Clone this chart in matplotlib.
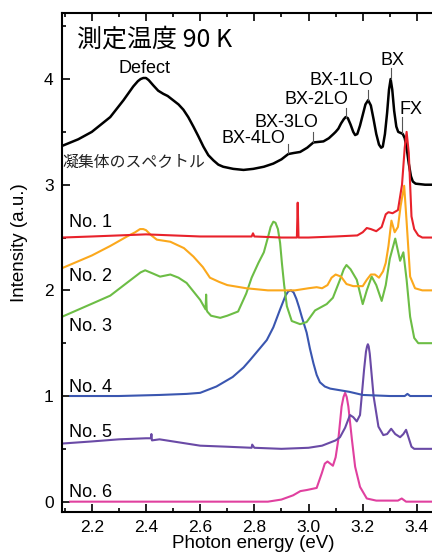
import matplotlib
matplotlib.use("Agg")
import matplotlib.pyplot as plt
from matplotlib.ticker import MultipleLocator

plt.rcParams['font.family'] = ['Liberation Sans', 'DejaVu Sans']

# bulk spectrum (black)
bulk_x = [2.09, 2.15, 2.2, 2.268, 2.317, 2.353, 2.37, 2.38, 2.39, 2.40, 2.41, 2.427, 2.445,
          2.464, 2.48, 2.50, 2.52, 2.538, 2.556, 2.575, 2.593, 2.612, 2.63, 2.649, 2.667,
          2.685, 2.722, 2.76, 2.796, 2.835, 2.87, 2.90, 2.925, 2.945, 2.969, 2.995, 3.018,
          3.055, 3.075, 3.092, 3.10, 3.11, 3.12, 3.13, 3.137, 3.145, 3.155, 3.165, 3.172,
          3.18, 3.19, 3.2, 3.21, 3.22, 3.23, 3.24, 3.25, 3.26, 3.268, 3.274, 3.282, 3.29,
          3.297, 3.303, 3.309, 3.316, 3.324, 3.331, 3.34, 3.348, 3.355, 3.362, 3.37, 3.378,
          3.385, 3.395, 3.43, 3.5]
bulk_y = [3.367, 3.43, 3.50, 3.64, 3.80, 3.93, 3.98, 4.0, 4.01, 4.01, 3.99, 3.94, 3.89,
          3.86, 3.84, 3.80, 3.76, 3.71, 3.64, 3.55, 3.46, 3.36, 3.28, 3.23, 3.19,
          3.17, 3.15, 3.14, 3.15, 3.17, 3.20, 3.24, 3.29, 3.30, 3.31, 3.35, 3.40,
          3.41, 3.44, 3.48, 3.50, 3.53, 3.58, 3.62, 3.64, 3.63, 3.57, 3.50, 3.47,
          3.48, 3.56, 3.66, 3.76, 3.80, 3.75, 3.62, 3.48, 3.38, 3.35, 3.36, 3.48, 3.68,
          3.90, 4.0, 3.90, 3.70, 3.55, 3.50, 3.49, 3.48, 3.44, 3.35, 3.20, 3.08,
          3.03, 3.01, 3.0, 3.0]

# No. 1 (red)
no1_x = [2.09, 2.2, 2.3, 2.4, 2.5, 2.6, 2.7, 2.79, 2.795, 2.80, 2.9, 2.957, 2.96, 2.963,
         3.0, 3.1, 3.18, 3.2, 3.215, 3.23, 3.25, 3.27, 3.285, 3.295, 3.31, 3.33, 3.345,
         3.355, 3.362, 3.37, 3.375, 3.38, 3.39, 3.405, 3.42, 3.5]
no1_y = [2.50, 2.51, 2.52, 2.53, 2.52, 2.51, 2.51, 2.51, 2.54, 2.51, 2.50, 2.50, 2.83, 2.50,
         2.50, 2.51, 2.52, 2.55, 2.59, 2.58, 2.56, 2.60, 2.72, 2.74, 2.73, 2.76, 3.0,
         3.35, 3.50, 3.3, 3.0, 2.7, 2.58, 2.52, 2.50, 2.50]

# No. 2 (orange)
no2_x = [2.09, 2.2, 2.268, 2.33, 2.36, 2.378, 2.39, 2.40, 2.42, 2.44, 2.49, 2.54, 2.575,
         2.61, 2.636, 2.67, 2.70, 2.77, 2.85, 2.95, 3.0, 3.03, 3.05, 3.07, 3.085, 3.10,
         3.12, 3.14, 3.165, 3.20, 3.215, 3.23, 3.245, 3.26, 3.275, 3.285, 3.295, 3.306,
         3.318, 3.33, 3.34, 3.353, 3.362, 3.375, 3.393, 3.42, 3.5]
no2_y = [2.21, 2.33, 2.42, 2.51, 2.55, 2.58, 2.58, 2.57, 2.52, 2.48, 2.46, 2.40, 2.32,
         2.22, 2.12, 2.08, 2.05, 2.02, 2.0, 2.0, 2.02, 2.03, 2.02, 2.05, 2.12, 2.15,
         2.13, 2.06, 2.04, 2.04, 2.10, 2.15, 2.15, 2.12, 2.18, 2.26, 2.42, 2.66,
         2.55, 2.60, 2.80, 2.99, 2.65, 2.13, 2.02, 2.0, 2.0]

# No. 3 (green)
no3_x = [2.09, 2.206, 2.268, 2.329, 2.38, 2.397, 2.425, 2.452, 2.49, 2.52, 2.55, 2.6, 2.62,
         2.622, 2.624, 2.626, 2.64, 2.674, 2.70, 2.74, 2.77, 2.79, 2.815, 2.835, 2.85,
         2.86, 2.87, 2.878, 2.887, 2.895, 2.902, 2.91, 2.92, 2.938, 2.969, 2.993, 3.024,
         3.067, 3.09, 3.116, 3.13, 3.14, 3.155, 3.178, 3.2, 3.215, 3.233, 3.25, 3.27,
         3.285, 3.30, 3.32, 3.338, 3.35, 3.362, 3.375, 3.39, 3.405, 3.43, 3.5]
no3_y = [1.75, 1.88, 1.95, 2.07, 2.17, 2.19, 2.16, 2.13, 2.15, 2.12, 2.07, 1.91, 1.82,
         1.96, 1.82, 1.80, 1.76, 1.74, 1.76, 1.80, 1.97, 2.12, 2.26, 2.36, 2.50,
         2.60, 2.65, 2.64, 2.58, 2.45, 2.25, 2.05, 1.85, 1.71, 1.68, 1.70, 1.81,
         1.87, 1.93, 2.1, 2.2, 2.24, 2.2, 2.1, 1.87, 2.0, 2.13, 2.05, 1.9,
         2.05, 2.3, 2.49, 2.28, 2.36, 2.1, 1.75, 1.55, 1.5, 1.5, 1.5]

# No. 4 (blue)
no4_x = [2.12, 2.3, 2.45, 2.55, 2.6, 2.66, 2.72, 2.76, 2.784, 2.82, 2.846, 2.87, 2.895,
         2.915, 2.925, 2.935, 2.945, 2.955, 2.965, 2.975, 2.993, 3.005, 3.018, 3.03, 3.042,
         3.06, 3.08, 3.15, 3.2, 3.3, 3.355, 3.365, 3.375, 3.5]
no4_y = [1.0, 1.0, 1.01, 1.02, 1.03, 1.09, 1.18, 1.27, 1.34, 1.45, 1.53, 1.65, 1.82,
         1.95, 1.99, 2.0, 1.98, 1.92, 1.84, 1.75, 1.6, 1.45, 1.31, 1.2, 1.13,
         1.09, 1.07, 1.04, 1.01, 1.0, 1.0, 1.02, 1.0, 1.0]

# No. 5 (purple)
no5_x = [2.09, 2.2, 2.3, 2.4, 2.418, 2.42, 2.422, 2.45, 2.5, 2.6, 2.7, 2.79, 2.792, 2.8,
         2.9, 3.0, 3.05, 3.08, 3.1, 3.116, 3.135, 3.153, 3.165, 3.178, 3.19, 3.196, 3.205,
         3.212, 3.216, 3.219, 3.222, 3.226, 3.233, 3.24, 3.258, 3.276, 3.29, 3.305, 3.32,
         3.338, 3.35, 3.36, 3.37, 3.38, 3.39, 3.42, 3.5]
no5_y = [0.55, 0.57, 0.59, 0.60, 0.60, 0.64, 0.58, 0.59, 0.57, 0.53, 0.52, 0.51, 0.54, 0.51,
         0.50, 0.51, 0.53, 0.56, 0.58, 0.61, 0.70, 0.82, 0.80, 0.76, 0.82, 0.99, 1.25,
         1.42, 1.47, 1.49, 1.47, 1.40, 1.2, 1.0, 0.71, 0.63, 0.64, 0.69, 0.64,
         0.61, 0.64, 0.68, 0.60, 0.52, 0.50, 0.50, 0.50]

# No. 6 (pink)
no6_x = [2.12, 2.5, 2.85, 2.9, 2.943, 2.97, 2.993, 3.03, 3.049, 3.06, 3.07, 3.09, 3.1,
         3.11, 3.122, 3.129, 3.135, 3.141, 3.147, 3.16, 3.172, 3.19, 3.215, 3.25, 3.33,
         3.344, 3.36, 3.5]
no6_y = [0.0, 0.0, 0.0, 0.02, 0.06, 0.1, 0.11, 0.13, 0.27, 0.36, 0.38, 0.34, 0.42,
         0.59, 0.90, 0.99, 1.03, 0.99, 0.90, 0.59, 0.33, 0.14, 0.03, 0.01, 0.01,
         0.03, 0.0, 0.0]

sample_labels = ["No. 1", "No. 2", "No. 3", "No. 4", "No. 5", "No. 6"]
label_y = [2.64, 2.13, 1.66, 1.08, 0.65, 0.09]

peak_names = ["BX-4LO", "BX-3LO", "BX-2LO", "BX-1LO", "BX", "FX"]
peak_x = [2.925, 3.017, 3.137, 3.22, 3.303, 3.344]
peak_tick_top = [3.39, 3.50, 3.725, 3.895, 4.105, 3.64]
peak_tick_bot = [3.30, 3.405, 3.63, 3.80, 4.0, 3.485]
peak_text_x = [2.798, 2.92, 3.03, 3.12, 3.31, 3.378]
peak_text_y = [3.44, 3.585, 3.81, 3.985, 4.18, 3.71]

fig = plt.figure(figsize=(4.32, 5.56), dpi=100)
# axes runs past the right edge of the figure, like the cropped original
ax = fig.add_axes([62 / 432, 44.3 / 556, 382 / 432, 499.2 / 556])

lw = 1.5
ax.plot(no6_x, no6_y, color='#e0409f', lw=lw)
ax.plot(no5_x, no5_y, color='#6a4aa6', lw=lw)
ax.plot(no4_x, no4_y, color='#3a56b0', lw=lw)
ax.plot(no3_x, no3_y, color='#6cbd45', lw=lw)
ax.plot(no2_x, no2_y, color='#fba81c', lw=lw)
ax.plot(bulk_x, bulk_y, color='black', lw=1.8)
ax.plot(no1_x, no1_y, color='#e8222b', lw=lw)

for name, y in zip(sample_labels, label_y):
    ax.text(2.116, y, name, fontsize=13, va='center', ha='left')

for name, px, yt, yb, tx, ty in zip(peak_names, peak_x, peak_tick_top, peak_tick_bot,
                                      peak_text_x, peak_text_y):
    ax.plot([px, px], [yb, yt], color='#555555', lw=0.8)
    ax.text(tx, ty, name, fontsize=13, ha='center', va='center')

ax.text(2.396, 4.10, "Defect", fontsize=13, ha='center', va='center')
ax.text(2.144, 4.37, "測定温度 90 K", fontsize=18, ha='left', va='center',
        family=['Noto Sans CJK JP', 'DejaVu Sans'])
ax.text(2.09, 3.215, "凝集体のスペクトル", fontsize=11.4, ha='left', va='center',
        color='#222222', family=['Noto Sans CJK JP', 'DejaVu Sans'])

ax.set_xlim(2.09, 3.5)
ax.set_ylim(-0.095, 4.63)
ax.xaxis.set_major_locator(MultipleLocator(0.2))
ax.xaxis.set_minor_locator(MultipleLocator(0.1))
ax.yaxis.set_major_locator(MultipleLocator(1))
ax.yaxis.set_minor_locator(MultipleLocator(0.5))
ax.tick_params(which='both', direction='in', top=True, right=False, width=1.2)
ax.tick_params(which='major', length=5.5, labelsize=12.5, pad=6)
ax.tick_params(which='minor', length=3)
ax.set_xticks([2.2, 2.4, 2.6, 2.8, 3.0, 3.2, 3.4])
ax.set_xticklabels(["2.2", "2.4", "2.6", "2.8", "3.0", "3.2", "3.4"])
ax.spines['right'].set_visible(False)
for s in ['left', 'bottom', 'top']:
    ax.spines[s].set_linewidth(1.5)

ax.set_xlabel("Photon energy (eV)", fontsize=13.5, labelpad=0)
fig.text(20 / 432, 1 - 243 / 556, "Intensity (a.u.)", fontsize=13.5, rotation=90,
         ha='center', va='center')

fig.savefig("out.png", dpi=100)
